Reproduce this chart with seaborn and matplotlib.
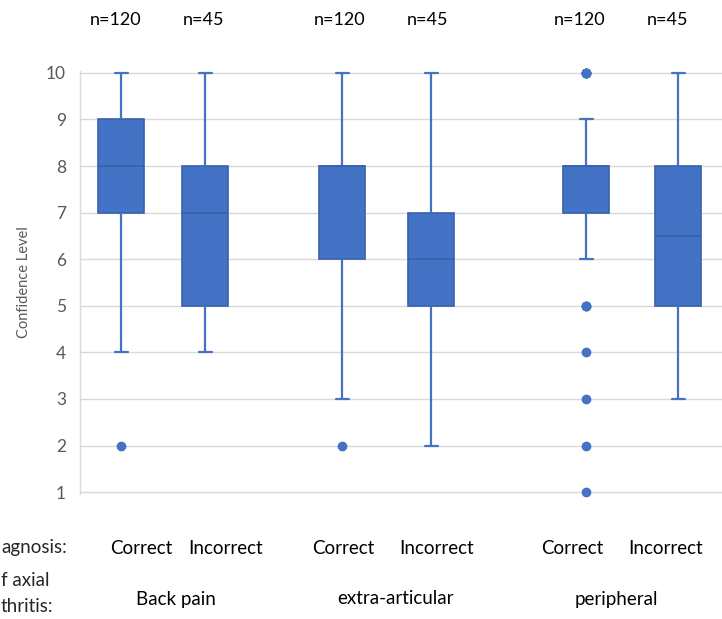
import matplotlib
matplotlib.use("Agg")
import matplotlib.pyplot as plt
import matplotlib.transforms as mtransforms
import numpy as np
import pandas as pd
import seaborn as sns

# ---------------- data ----------------
manifestations = ["Back pain", "extra-articular", "peripheral"]
diagnoses = ["Correct", "Incorrect"]
n_labels = ["n=120", "n=45", "n=120", "n=45", "n=120", "n=45"]
left_labels = ["agnosis:", "f axial", "thritis:"]   # as visible (cropped) in the reference

score_levels = [1, 2, 3, 4, 5, 6, 6.5, 7, 8, 9, 10]
# estimated number of respondents per confidence score (consistent with box stats)
back_pain_correct      = [0, 1, 0, 2, 4, 8, 0, 20, 35, 30, 20]
back_pain_incorrect    = [0, 0, 0, 3, 9, 6, 0, 8, 10, 6, 3]
extra_correct          = [0, 1, 3, 6, 12, 20, 0, 16, 40, 15, 7]
extra_incorrect        = [0, 2, 3, 4, 7, 10, 0, 10, 5, 3, 1]
peripheral_correct     = [1, 1, 1, 1, 3, 10, 0, 30, 50, 18, 5]
peripheral_incorrect   = [0, 0, 2, 4, 8, 7, 3, 4, 8, 6, 3]

group_counts = [back_pain_correct, back_pain_incorrect,
                extra_correct, extra_incorrect,
                peripheral_correct, peripheral_incorrect]

# ---------------- layout (horizontal slot centres, in pixel-like units) ----------------
box_slots = [121, 205, 342, 431, 586, 678]
n_label_x = [116, 204, 340, 428, 580, 668]
diag_label_x = [141, 226, 343, 437, 572, 666]
manif_label_x = [176, 396, 616]

rows = []
for slot, counts in zip(box_slots, group_counts):
    for lvl, c in zip(score_levels, counts):
        rows += [(slot, lvl)] * c
df = pd.DataFrame(rows, columns=["slot", "score"])

# ---------------- style ----------------
sns.set_theme(style="white")
plt.rcParams["font.family"] = ["Lato", "DejaVu Sans"]

W, H = 722, 619
fig = plt.figure(figsize=(W / 100, H / 100), dpi=100)
ax = fig.add_axes([80 / W, (H - 494) / H, 1 - 80 / W, (494 - 71) / H])

blue = "#4472C4"
edge = "#3762AE"

sns.boxplot(data=df, x="slot", y="score", native_scale=True, width=0.55,
            color=blue, linecolor=blue, linewidth=1.4, fliersize=6,
            boxprops=dict(facecolor=blue, edgecolor=edge, linewidth=1.2),
            medianprops=dict(color=edge, linewidth=1.3),
            whiskerprops=dict(color=blue, linewidth=1.6),
            capprops=dict(color=blue, linewidth=1.6),
            flierprops=dict(marker="o", markerfacecolor=blue,
                            markeredgecolor=blue, markersize=6),
            capwidths=13, ax=ax)

ax.set_xlim(80, 722)
ax.set_ylim(0.96, 10.04)
ax.set_yticks(range(1, 11))
ax.set_yticklabels([str(v) for v in range(1, 11)])
ax.tick_params(axis="y", length=0, pad=10, labelsize=12.5, labelcolor="#595959")
ax.set_xticks([])
ax.set_xlabel("")
ax.set_ylabel("Confidence Level", fontsize=10.5, color="#595959", labelpad=11)
ax.grid(axis="y", color="#D9D9D9", linewidth=1)
ax.set_axisbelow(True)
for side in ["top", "right", "bottom"]:
    ax.spines[side].set_visible(False)
ax.spines["left"].set_color("#D9D9D9")
ax.spines["left"].set_linewidth(1)
for coll in ax.collections:
    coll.set_clip_on(False)
for line in ax.lines:
    line.set_clip_on(False)

# ---------------- annotations ----------------
trans = mtransforms.blended_transform_factory(ax.transData, fig.transFigure)
for xpos, lab in zip(n_label_x, n_labels):
    ax.text(xpos, 1 - 20 / H, lab, transform=trans, ha="center", va="center",
            fontsize=13, color="black")
for i, xpos in enumerate(diag_label_x):
    ax.text(xpos, 1 - 548 / H, diagnoses[i % 2], transform=trans, ha="center",
            va="center", fontsize=13.5, color="black")
for xpos, lab in zip(manif_label_x, manifestations):
    ax.text(xpos, 1 - 599 / H, lab, transform=trans, ha="center", va="center",
            fontsize=13.5, color="black")

fig.text(1 / W, 1 - 548 / H, left_labels[0], ha="left", va="center", fontsize=13.5)
fig.text(1 / W, 1 - 581 / H, left_labels[1], ha="left", va="center", fontsize=13.5)
fig.text(1 / W, 1 - 607 / H, left_labels[2], ha="left", va="center", fontsize=13.5)

fig.savefig("out.png", dpi=100)
